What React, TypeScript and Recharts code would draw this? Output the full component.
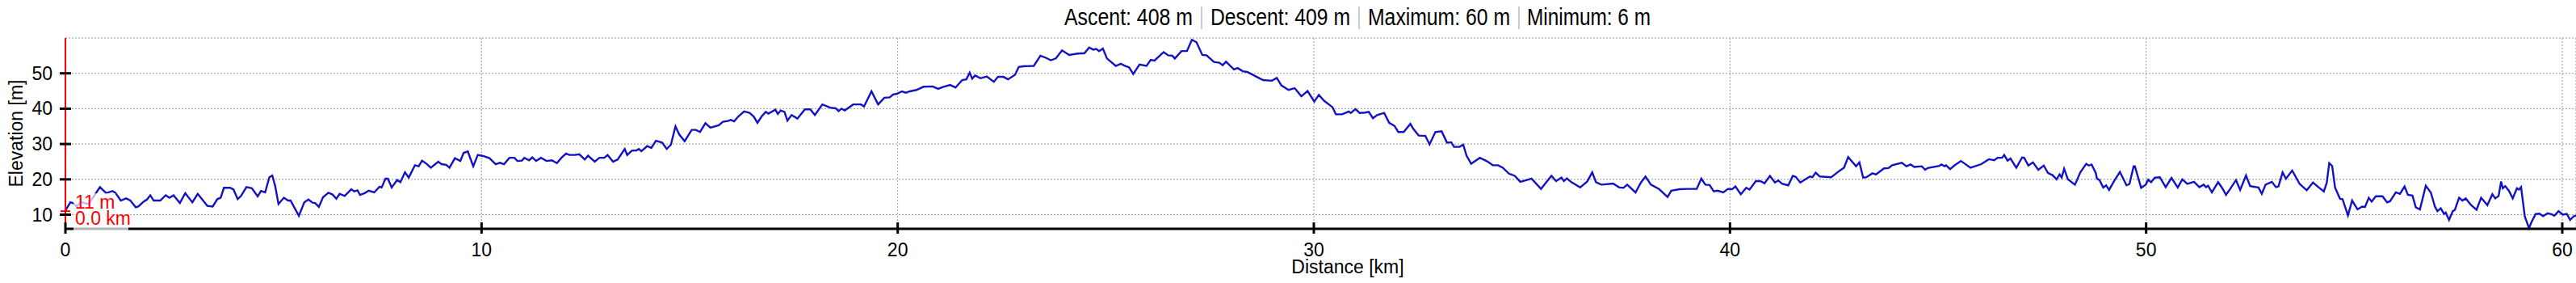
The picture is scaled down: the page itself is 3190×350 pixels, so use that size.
import React from 'react';
import { LineChart, Line, XAxis, YAxis, CartesianGrid, ReferenceDot } from 'recharts';

const distanceKm = [
  0, 0.12, 0.2, 0.27, 0.37, 0.55, 0.7, 0.83, 0.98, 1.13, 1.2, 1.33, 1.46, 1.56, 1.69, 1.75, 1.89, 1.96, 2.04, 2.12,
  2.28, 2.41, 2.5, 2.6, 2.75, 2.88, 3.05, 3.18, 3.41, 3.54, 3.65, 3.73, 3.81, 3.96, 4.04, 4.14, 4.22, 4.35, 4.48, 4.62,
  4.7, 4.8, 4.9, 4.97, 5.04, 5.12, 5.25, 5.35, 5.41, 5.61, 5.74, 5.84, 5.94, 6.0, 6.09, 6.19,
  6.32, 6.42, 6.51, 6.59, 6.71, 6.87, 6.94, 7.02, 7.08, 7.19, 7.29, 7.42, 7.55, 7.6, 7.69, 7.75, 7.84, 7.97, 8.05, 8.16,
  8.25, 8.4, 8.49, 8.57, 8.68, 8.78, 8.96, 9.04, 9.15, 9.23, 9.36, 9.49, 9.57, 9.67, 9.8, 9.91, 10.04, 10.19, 10.34, 10.44,
  10.54, 10.67, 10.79, 10.86, 10.97, 11.03, 11.14, 11.22, 11.31, 11.43, 11.56, 11.69, 11.81, 11.92, 12.03, 12.11,
  12.24, 12.35, 12.48, 12.56, 12.72, 12.83, 12.95, 13.03, 13.16, 13.27, 13.44, 13.5, 13.61, 13.72, 13.78, 13.84, 13.98, 14.08,
  14.19, 14.34, 14.45, 14.55, 14.66, 14.75, 14.88, 15.05, 15.15, 15.25, 15.38, 15.5, 15.7, 15.8, 15.92, 15.99, 16.07, 16.17,
  16.31, 16.44, 16.54, 16.63, 16.73, 16.83, 16.89, 17.06, 17.12, 17.19, 17.28, 17.35, 17.45, 17.59, 17.77, 17.9, 18.01, 18.19,
  18.38, 18.51, 18.58, 18.65, 18.73, 18.93, 19.12, 19.19, 19.37, 19.53, 19.68, 19.81, 19.89, 19.98, 20.1, 20.2, 20.29, 20.45,
  20.62, 20.84, 20.97, 21.1, 21.26, 21.39, 21.55, 21.65, 21.73, 21.79, 21.86, 21.99, 22.14, 22.31, 22.41, 22.54, 22.65, 22.82,
  22.91, 23.01, 23.27, 23.43, 23.56, 23.68, 23.8, 23.95, 24.12, 24.33,
  24.49, 24.6, 24.7, 24.77, 24.84, 24.93, 25.03, 25.24, 25.36, 25.47, 25.56, 25.66, 25.81, 25.98, 26.08, 26.17, 26.39, 26.5,
  26.6, 26.66, 26.82, 26.95, 27.07, 27.18, 27.32, 27.42, 27.6, 27.73, 27.81, 27.89, 28.08, 28.17, 28.29, 28.4, 28.63, 28.78,
  28.99, 29.11, 29.22, 29.39, 29.54, 29.7, 29.85, 30.01, 30.12, 30.25, 30.45,
  30.53, 30.68, 30.84, 30.89, 31.0, 31.1, 31.23, 31.32, 31.42, 31.52, 31.69, 31.81, 31.94, 32.03, 32.16, 32.32, 32.39, 32.52,
  32.68, 32.78, 32.92, 33.07, 33.2, 33.3, 33.37, 33.5, 33.59, 33.67, 33.78, 33.99, 34.15, 34.3, 34.43, 34.54, 34.69, 34.83,
  34.96, 35.12, 35.23, 35.46, 35.58, 35.71, 35.82, 35.95, 36.01, 36.08, 36.19, 36.4, 36.57,
  36.69, 36.78, 36.91, 37.19, 37.34, 37.44, 37.53, 37.73, 37.86, 37.97, 38.1, 38.3, 38.5, 38.59, 38.79, 38.97, 39.2, 39.31,
  39.41, 39.51, 39.61, 39.7, 39.84, 39.95, 40.05, 40.13, 40.26, 40.39, 40.47, 40.62, 40.73, 40.83, 40.96, 41.08, 41.16, 41.25,
  41.4, 41.51, 41.58, 41.69, 41.92, 41.98, 42.06, 42.16, 42.43, 42.51, 42.64,
  42.74, 42.84, 43.03, 43.11, 43.2, 43.28, 43.42, 43.51, 43.7, 43.81, 43.9, 44.13, 44.24, 44.34, 44.43, 44.61, 44.69, 44.75,
  45.03, 45.08, 45.16, 45.19, 45.29, 45.39, 45.55, 45.78, 46.04, 46.22, 46.35, 46.43, 46.54, 46.59, 46.67, 46.74, 46.88, 47.02,
  47.07, 47.17, 47.28, 47.41, 47.54, 47.64, 47.75, 47.85, 47.92, 47.97, 48.03, 48.12, 48.29, 48.42, 48.56, 48.62, 48.69, 48.79,
  48.82, 48.88, 48.97, 49.04, 49.11, 49.24, 49.37, 49.53, 49.6, 49.7, 49.73, 49.88, 49.99, 50.05, 50.12, 50.21, 50.33, 50.47,
  50.61, 50.76, 50.87, 50.99, 51.15, 51.28, 51.38, 51.44, 51.49, 51.58, 51.73, 51.83, 51.92, 52.02, 52.16, 52.26, 52.4, 52.5,
  52.7, 52.78, 52.87, 53.02, 53.12, 53.18, 53.28, 53.36, 53.51, 53.69, 53.86, 54.01, 54.15, 54.27, 54.34, 54.4, 54.47, 54.54,
  54.66, 54.72, 54.85,
  54.95, 55.08, 55.19, 55.26, 55.35, 55.42, 55.52, 55.68, 55.79, 55.86, 56.0, 56.1, 56.21, 56.29, 56.4, 56.48, 56.58, 56.72,
  56.84, 56.94, 57.0, 57.08, 57.16, 57.2, 57.28, 57.37, 57.42, 57.52, 57.6, 57.68, 57.81, 57.94, 58.05, 58.2, 58.32, 58.39,
  58.47, 58.53, 58.57, 58.63, 58.72, 58.81, 58.91, 58.96, 59.01, 59.1, 59.2, 59.26, 59.36, 59.45, 59.54, 59.65, 59.75, 59.81,
  59.91, 60.01, 60.11, 60.19, 60.27, 60.33,
];

const elevationM = [
  11.2, 13.5, 13.2, 12.3, 13.6, 13.0, 15.5, 17.8, 16.1, 16.7, 16.2, 14.0, 14.6, 14.0, 12.1, 12.3, 13.8, 14.3, 15.5, 14.0,
  14.0, 15.5, 14.8, 15.5, 13.3, 16.1, 13.5, 15.9, 12.5, 12.3, 14.4, 14.8, 17.6, 17.6, 17.1, 14.4, 15.3, 17.8, 17.5, 15.2,
  16.7, 16.3, 20.6, 21.1, 18.2, 13.0, 14.8, 14.0, 14.0, 9.7, 13.5, 14.3, 13.4, 13.3, 12.2, 14.9,
  16.2, 15.7, 14.5, 15.9, 15.3, 17.2, 16.6, 16.9, 15.6, 16.1, 16.8, 16.3, 17.9, 17.7, 20.2, 20.2, 17.7, 19.8, 19.2, 22.0,
  20.5, 24.0, 23.7, 25.3, 24.4, 23.3, 25.0, 24.3, 24.1, 23.3, 26.0, 25.2, 27.5, 27.9, 23.7, 26.9, 26.6, 26.0, 24.3, 24.7,
  24.3, 26.1, 26.1, 25.2, 25.3, 26.1, 25.4, 26.2, 25.2, 26.1, 25.2, 25.4, 24.6, 26.1, 27.3, 26.9,
  26.9, 27.1, 25.6, 26.7, 25.0, 26.1, 26.1, 26.9, 25.0, 25.6, 28.6, 26.9, 28.1, 28.2, 28.6, 28.0, 29.4, 28.9,
  30.9, 30.4, 28.6, 29.8, 35.0, 32.7, 30.8, 34.0, 34.0, 33.4, 35.9, 34.6, 35.3, 36.3, 36.5, 36.8, 36.4, 37.8,
  39.2, 38.8, 37.8, 36.0, 37.8, 39.1, 38.6, 39.7, 38.5, 39.5, 39.1, 36.6, 38.2, 37.2, 39.8, 39.8, 38.2, 41.2,
  40.3, 40.1, 39.3, 40.0, 39.5, 41.2, 41.2, 40.6, 44.9, 41.2, 43.1, 43.2, 44.0, 44.2, 44.9, 44.5, 44.9, 45.3,
  46.2, 46.3, 45.6, 46.2, 46.7, 46.0, 48.1, 48.3, 50.2, 48.5, 49.4, 48.6, 49.1, 47.6, 49.0, 49.0, 48.3, 49.6,
  51.8, 52.0, 52.1, 55.0, 54.4, 53.7, 54.2, 56.5, 55.2, 55.6,
  55.7, 57.3, 56.7, 56.9, 56.3, 57.0, 54.2, 52.1, 52.7, 52.1, 51.7, 49.8, 52.5, 52.1, 53.8, 53.6, 56.0, 55.1,
  55.0, 54.2, 56.3, 56.3, 59.5, 58.8, 55.2, 55.1, 53.2, 53.0, 52.3, 53.3, 51.1, 51.5, 50.6, 50.4, 49.0, 48.1,
  47.9, 48.7, 46.6, 45.3, 45.8, 43.5, 45.0, 42.0, 43.9, 42.2, 40.4,
  38.4, 38.4, 39.2, 38.8, 39.9, 38.8, 38.9, 39.1, 37.3, 38.2, 38.8, 36.0, 35.1, 33.4, 33.4, 35.7, 34.3, 32.4,
  32.3, 29.9, 33.4, 33.6, 30.4, 30.5, 29.2, 29.2, 29.8, 26.7, 24.4, 26.1, 25.2, 24.0, 24.0, 23.3, 21.6, 21.0,
  19.3, 19.8, 20.2, 17.3, 19.1, 21.0, 19.5, 20.5, 19.5, 20.3, 19.2, 17.7, 19.4,
  22.0, 19.2, 18.5, 18.8, 17.7, 17.6, 18.5, 16.3, 19.1, 20.8, 18.5, 17.2, 15.0, 16.8, 17.2, 17.3, 17.3, 20.2,
  18.5, 18.4, 16.6, 16.8, 16.3, 17.3, 17.2, 18.0, 15.8, 17.6, 17.1, 19.5, 19.5, 18.9, 21.0, 19.1, 19.7, 18.8,
  18.3, 21.0, 20.7, 19.1, 20.8, 20.6, 21.9, 20.8, 20.6, 21.3, 22.5,
  23.3, 26.3, 23.7, 24.8, 20.5, 20.6, 21.7, 21.4, 23.1, 23.2, 24.0, 24.7, 23.7, 24.2, 23.5, 23.7, 22.7, 23.2,
  23.8, 24.2, 23.7, 24.0, 22.9, 23.9, 25.2, 23.3, 24.3, 25.7, 25.4, 26.1, 26.1, 26.9, 25.3, 25.9, 23.3, 26.2,
  26.1, 23.9, 24.8, 22.7, 23.9, 21.8, 21.2, 20.0, 21.4, 20.5, 23.0, 20.0, 18.5, 22.0, 24.4, 23.9, 24.2, 21.8,
  20.2, 19.8, 17.7, 18.3, 17.0, 19.7, 22.1, 18.3, 18.7, 23.7, 23.7, 17.6, 18.5, 19.9, 19.2, 20.5, 20.6, 17.8,
  20.4, 17.7, 20.0, 18.7, 19.3, 17.8, 18.5, 17.8, 18.2, 16.3, 19.2, 17.5, 15.6, 17.3, 19.8, 17.0, 21.1, 18.1,
  17.7, 15.9, 18.5, 19.3, 17.8, 18.0, 22.0, 20.2, 22.5, 18.7, 16.9, 19.1, 17.7, 16.6, 19.0, 24.6, 23.8, 17.7,
  14.5, 14.4, 9.8,
  14.0, 11.5, 12.3, 12.2, 14.8, 13.7, 15.2, 15.2, 13.5, 13.8, 16.3, 15.9, 18.0, 15.6, 15.4, 12.1, 11.5, 18.2,
  16.3, 12.3, 11.0, 11.8, 10.2, 10.6, 8.5, 11.0, 11.4, 14.8, 14.0, 14.6, 12.7, 11.4, 14.8, 12.7, 15.8, 14.6,
  15.3, 19.4, 17.5, 18.1, 16.7, 14.6, 17.5, 17.1, 17.8, 9.5, 6.2, 7.9, 10.2, 10.3, 9.6, 10.4, 10.1, 9.7,
  11.0, 10.0, 10.2, 8.5, 9.5, 9.8,
];

const xTicks = [0, 10, 20, 30, 40, 50, 60];
const yTicks = [10, 20, 30, 40, 50];
const titleParts = ['Ascent: 408 m', 'Descent: 409 m', 'Maximum: 60 m', 'Minimum: 6 m'];
const markerKm = 0;
const markerElev = 11;
const markerLabels = ['11 m', '0.0 km'];
const xLabel = 'Distance [km]';
const yLabel = 'Elevation [m]';

const data = distanceKm.map((km, i) => ({ km, elev: elevationM[i] }));

const FONT = '"Liberation Sans", Arial, Helvetica, sans-serif';

// title layout (start x, width) for each part, and separator x positions
const titleStarts = [1318, 1499, 1694, 1891];
const titleWidths = [159, 173, 176, 153];
const sepXs = [1488, 1683, 1881];

const XTick = (props: any) => {
  const { x, y, payload } = props;
  return (
    <g>
      <line x1={x} x2={x} y1={y - 8} y2={y + 6} stroke="#000" strokeWidth={3} />
      <text x={x} y={y + 34} textAnchor="middle" fontSize={23} fontFamily={FONT} fill="#000">
        {payload.value}
      </text>
    </g>
  );
};

const YTick = (props: any) => {
  const { x, y, payload } = props;
  const ax = x + 16;
  return (
    <g>
      <line x1={ax - 7} x2={ax + 7} y1={y} y2={y} stroke="#000" strokeWidth={3} />
      <text x={x} y={y} dy={8} textAnchor="end" fontSize={23} fontFamily={FONT} fill="#000">
        {payload.value}
      </text>
    </g>
  );
};

const Marker = (props: any) => {
  const { cx, cy } = props;
  return (
    <g>
      <rect x={cx + 10} y={cy - 22} width={52} height={24} fill="#fff" fillOpacity={0.7} />
      <rect x={cx + 10} y={cy + 2} width={68} height={22} fill="#fff" fillOpacity={0.7} />
      <line x1={cx - 6} x2={cx + 6} y1={cy} y2={cy} stroke="#f00" strokeWidth={2} />
      <text x={cx + 12} y={cy - 3} fontSize={23} fontFamily={FONT} fill="#f00">{markerLabels[0]}</text>
      <text x={cx + 12} y={cy + 17} fontSize={23} fontFamily={FONT} fill="#f00">{markerLabels[1]}</text>
    </g>
  );
};

export default function App() {
  return (
    <div style={{ position: 'absolute', left: 0, top: 0, width: 3190, height: 350, background: '#fff' }}>
      <LineChart
        width={3190}
        height={350}
        data={data}
        margin={{ top: 47, right: 0, bottom: 0, left: 0 }}
      >
        <CartesianGrid stroke="#999" strokeDasharray="2 2" strokeWidth={1} />
        <XAxis
          dataKey="km"
          type="number"
          domain={[0, 60.33]}
          ticks={xTicks}
          height={67}
          tickSize={0}
          tickMargin={0}
          tickLine={false}
          axisLine={{ stroke: '#000', strokeWidth: 3 }}
          tick={<XTick />}
        />
        <YAxis
          type="number"
          domain={[6, 60]}
          ticks={yTicks}
          width={81}
          tickSize={0}
          tickMargin={16}
          tickLine={false}
          axisLine={{ stroke: '#f00', strokeWidth: 2 }}
          tick={<YTick />}
        />
        <Line
          dataKey="elev"
          type="linear"
          stroke="#1212c4"
          strokeWidth={2.4}
          dot={false}
          activeDot={false}
          isAnimationActive={false}
        />
        <ReferenceDot x={markerKm} y={markerElev} ifOverflow="visible" shape={<Marker />} />
      </LineChart>
      <svg width={3190} height={350} style={{ position: 'absolute', left: 0, top: 0, pointerEvents: 'none' }}>
        {titleParts.map((p, i) => (
          <text key={'t' + i} x={titleStarts[i]} y={31} fontSize={30} fontFamily={FONT} fill="#000"
            textLength={titleWidths[i]} lengthAdjust="spacingAndGlyphs">{p}</text>
        ))}
        {sepXs.map((sx, i) => (
          <line key={'s' + i} x1={sx} x2={sx} y1={8} y2={36} stroke="#bbb" strokeWidth={1.5} />
        ))}
        <text x={1669} y={338} textAnchor="middle" fontSize={23} fontFamily={FONT} fill="#000">{xLabel}</text>
        <text transform="translate(28,165) rotate(-90)" textAnchor="middle" fontSize={23} fontFamily={FONT} fill="#000">{yLabel}</text>
      </svg>
    </div>
  );
}
